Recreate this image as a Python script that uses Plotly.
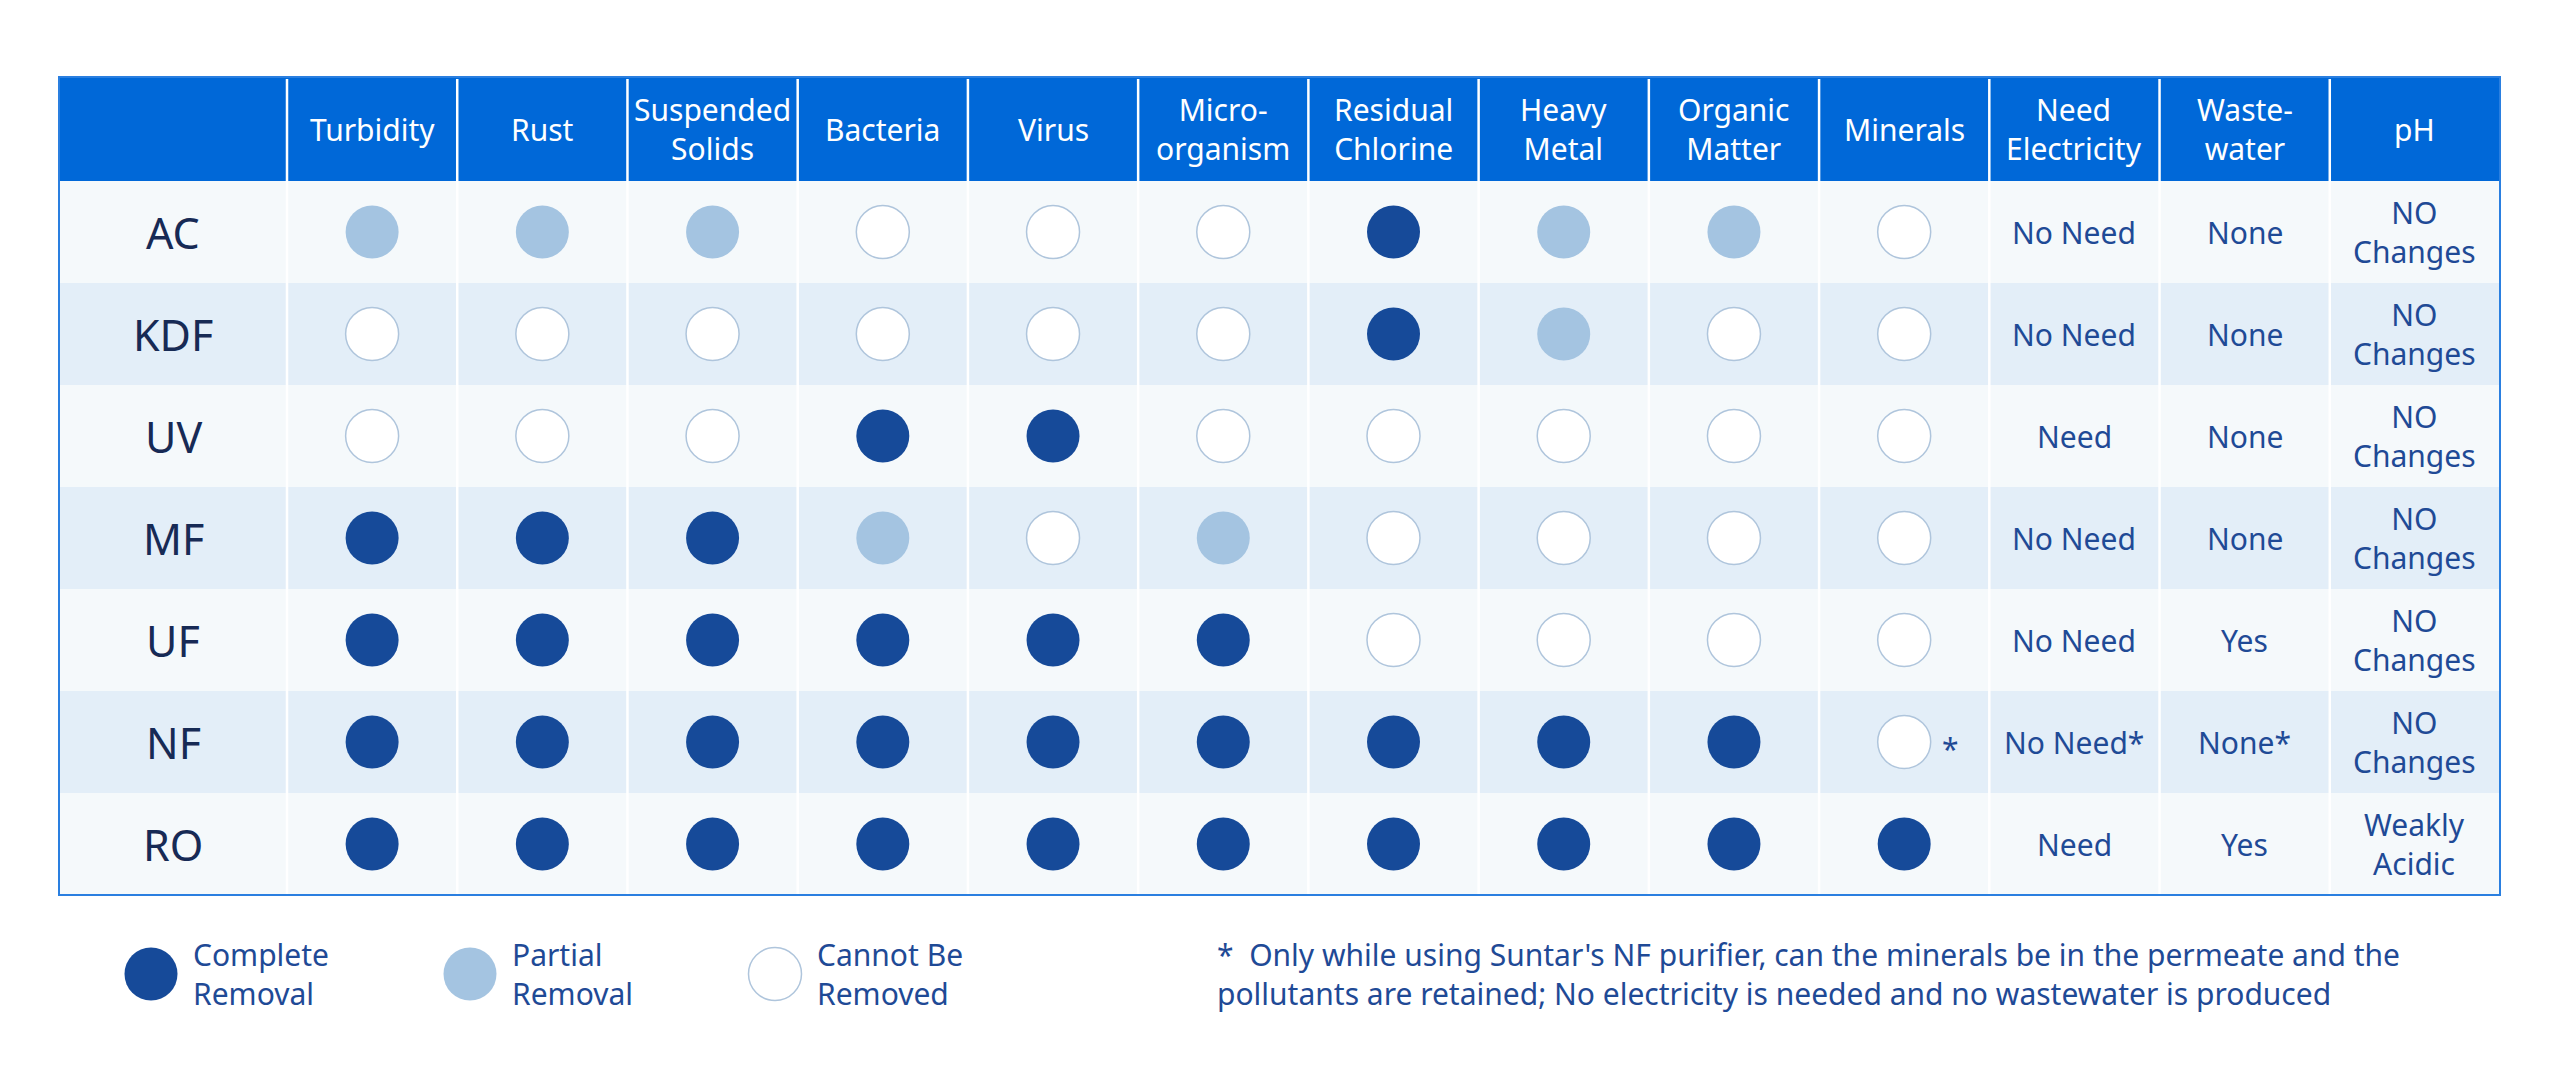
import plotly.graph_objects as go

rows = ["AC", "KDF", "UV", "MF", "UF", "NF", "RO"]
columns = ["Turbidity", "Rust", "Suspended\nSolids", "Bacteria", "Virus", "Micro-\norganism",
           "Residual\nChlorine", "Heavy\nMetal", "Organic\nMatter", "Minerals",
           "Need\nElectricity", "Waste-\nwater", "pH"]

# 2 = complete removal, 1 = partial removal, 0 = cannot be removed
removal = [
    [1, 1, 1, 0, 0, 0, 2, 1, 1, 0],  # AC
    [0, 0, 0, 0, 0, 0, 2, 1, 0, 0],  # KDF
    [0, 0, 0, 2, 2, 0, 0, 0, 0, 0],  # UV
    [2, 2, 2, 1, 0, 1, 0, 0, 0, 0],  # MF
    [2, 2, 2, 2, 2, 2, 0, 0, 0, 0],  # UF
    [2, 2, 2, 2, 2, 2, 2, 2, 2, 0],  # NF
    [2, 2, 2, 2, 2, 2, 2, 2, 2, 2],  # RO
]
mineral_note = ["", "", "", "", "", "*", ""]
electricity = ["No Need", "No Need", "Need", "No Need", "No Need", "No Need*", "Need"]
wastewater = ["None", "None", "None", "None", "Yes", "None*", "Yes"]
ph = ["NO\nChanges"] * 6 + ["Weakly\nAcidic"]

legend_labels = ["Complete\nRemoval", "Partial\nRemoval", "Cannot Be\nRemoved"]
footnote = ("*  Only while using Suntar's NF purifier, can the minerals be in the permeate and the\n"
            "pollutants are retained; No electricity is needed and no wastewater is produced")

# ---- styling ----
FONT = "Noto Sans"
HEADER_BG = "#0068d8"
BORDER = "#2a7fe0"
ROW_BG = ["#f5f9fb", "#e3eef8"]
DARK = "#164a99"
LIGHT = "#a4c4e1"
EMPTY_LINE = "#afc5dc"
LABEL_COLOR = "#172a55"
TEXT_COLOR = "#1f4a96"
level_style = {2: (DARK, DARK), 1: (LIGHT, LIGHT), 0: ("white", EMPTY_LINE)}

# page geometry (screen pixels; the figure sits 8px inside the page)
OX, OY, W, H = 8, 8, 2544, 1070
LEFT, RIGHT = 59, 2500
HEAD_TOP, HEAD_BOTTOM = 77, 181
ROW_H = 102
LABEL_W = 228
COL_W = (RIGHT - LEFT - LABEL_W) / len(columns)
BOTTOM = HEAD_BOTTOM + ROW_H * len(rows)
DOT = 53


def col_x(i):
    return LEFT + LABEL_W + COL_W * (i + 0.5)


def row_y(r):
    return HEAD_BOTTOM + ROW_H * (r + 0.5)


def add_text(fig, text, x, y, size, color, xanchor="center", align="center"):
    fig.add_annotation(x=x, y=y, text=text.replace("\n", "<br>"), showarrow=False,
                       xanchor=xanchor, yanchor="middle", align=align,
                       font=dict(family=FONT, size=size, color=color))


fig = go.Figure()

# table background
fig.add_shape(type="rect", x0=LEFT, x1=RIGHT, y0=HEAD_TOP, y1=HEAD_BOTTOM,
              fillcolor=HEADER_BG, line_width=0, layer="below")
for r in range(len(rows)):
    fig.add_shape(type="rect", x0=LEFT, x1=RIGHT, y0=HEAD_BOTTOM + ROW_H * r,
                  y1=HEAD_BOTTOM + ROW_H * (r + 1), fillcolor=ROW_BG[r % 2],
                  line_width=0, layer="below")
for i in range(len(columns)):
    xb = LEFT + LABEL_W + COL_W * i
    fig.add_shape(type="line", x0=xb, x1=xb, y0=HEAD_TOP + 2, y1=BOTTOM - 1,
                  line=dict(color="white", width=2.5), layer="below")
fig.add_shape(type="rect", x0=LEFT, x1=RIGHT, y0=HEAD_TOP, y1=BOTTOM,
              line=dict(color=BORDER, width=2), fillcolor="rgba(0,0,0,0)")

# header
for i, c in enumerate(columns):
    add_text(fig, c, col_x(i), (HEAD_TOP + HEAD_BOTTOM) / 2, 30, "white")

# row labels
for r, name in enumerate(rows):
    add_text(fig, name, LEFT + LABEL_W / 2, row_y(r), 43, LABEL_COLOR)

# removal dots
for level in (2, 1, 0):
    xs, ys = [], []
    for r, vals in enumerate(removal):
        for i, v in enumerate(vals):
            if v == level:
                xs.append(col_x(i))
                ys.append(row_y(r))
    fill, edge = level_style[level]
    fig.add_trace(go.Scatter(x=xs, y=ys, mode="markers", hoverinfo="skip",
                             marker=dict(size=DOT, color=fill,
                                         line=dict(color=edge, width=1.5 if level == 0 else 0))))

# note next to minerals
mi = columns.index("Minerals")
for r, note in enumerate(mineral_note):
    if note:
        add_text(fig, note, col_x(mi) + 36, row_y(r) + 6, 30, TEXT_COLOR, xanchor="left")

# text columns
for r in range(len(rows)):
    add_text(fig, electricity[r], col_x(10), row_y(r), 30, TEXT_COLOR)
    add_text(fig, wastewater[r], col_x(11), row_y(r), 30, TEXT_COLOR)
    add_text(fig, ph[r], col_x(12), row_y(r), 30, TEXT_COLOR)

# legend
LEG_Y = 974
leg_x = [151, 470, 775]
for k, level in enumerate((2, 1, 0)):
    fill, edge = level_style[level]
    fig.add_trace(go.Scatter(x=[leg_x[k]], y=[LEG_Y], mode="markers", hoverinfo="skip",
                             marker=dict(size=DOT, color=fill,
                                         line=dict(color=edge, width=1.5 if level == 0 else 0))))
    add_text(fig, legend_labels[k], leg_x[k] + 40, LEG_Y, 30, TEXT_COLOR,
             xanchor="left", align="left")

# footnote
add_text(fig, footnote, 1215, LEG_Y, 30, TEXT_COLOR, xanchor="left", align="left")

fig.update_layout(
    width=W, height=H, margin=dict(l=0, r=0, t=0, b=0),
    paper_bgcolor="white", plot_bgcolor="white", showlegend=False,
    xaxis=dict(range=[OX, OX + W], visible=False, fixedrange=True),
    yaxis=dict(range=[OY + H, OY], visible=False, fixedrange=True),
)

fig.write_html("out.html")
